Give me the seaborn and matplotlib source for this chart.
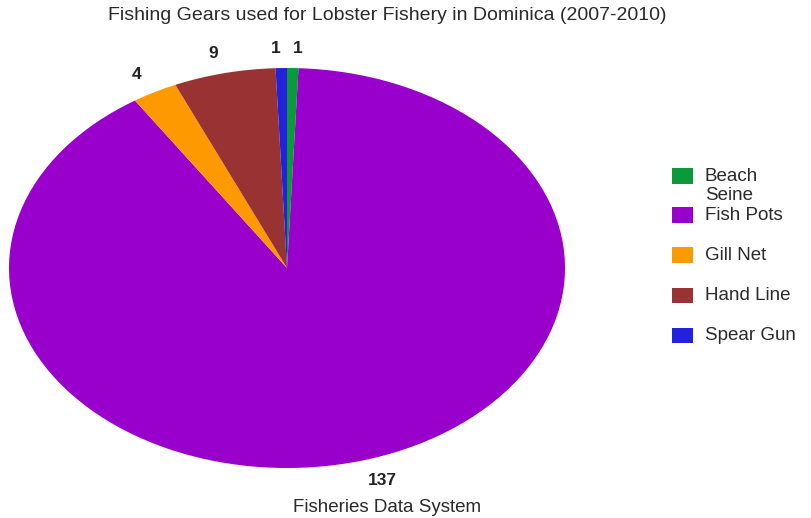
import matplotlib
matplotlib.use("Agg")
import matplotlib.pyplot as plt
import seaborn as sns
from matplotlib.patches import Rectangle

# Lobster fishery gear counts, Dominica 2007-2010
gears = ["Beach\nSeine", "Fish Pots", "Gill Net", "Hand Line", "Spear Gun"]
counts = [1, 137, 4, 9, 1]
gear_colors = ["#0a9a3a", "#9900cc", "#ff9900", "#993333", "#2222dd"]

title = "Fishing Gears used for Lobster Fishery in Dominica (2007-2010)"
source = "Fisheries Data System"

sns.set_theme(style="white")
plt.rcParams["font.family"] = ["Liberation Sans", "DejaVu Sans"]
palette = sns.color_palette(gear_colors)

W, H = 812, 518
fig = plt.figure(figsize=(W / 100, H / 100), dpi=100)
fig.patch.set_facecolor("white")

# Pie in a wide axes so it is drawn as an ellipse
ax = fig.add_axes([9 / W, 50 / H, 556 / W, 400 / H])
wedges, texts = ax.pie(
    counts,
    labels=[str(c) for c in counts],
    colors=palette,
    startangle=90,
    counterclock=False,
    labeldistance=1.1,
    wedgeprops=dict(linewidth=0),
    textprops=dict(fontsize=12.5, fontweight="bold", color="#222222"),
)
ax.set_aspect("auto")
ax.set_xlim(-1, 1)
ax.set_ylim(-1, 1)
ax.axis("off")

# Legend: colour swatches with labels on the right
swatch_y = [176, 215, 255, 295, 335]
for label, color, yc in zip(gears, palette, swatch_y):
    fig.patches.append(Rectangle((672 / W, 1 - (yc + 7.5) / H), 21 / W, 15 / H,
                                 transform=fig.transFigure, facecolor=color,
                                 edgecolor="none"))
    fig.text(705 / W, 1 - (yc - 8) / H, label, fontsize=13.5, color="#2a2a2a",
             ha="left", va="top", linespacing=1.12)

fig.text(387 / W, 1 - 15 / H, title, fontsize=14, color="#2a2a2a",
         ha="center", va="center")
fig.text(387 / W, 1 - 508 / H, source, fontsize=13.5, color="#2a2a2a",
         ha="center", va="center")

fig.savefig("out.png", dpi=100)
